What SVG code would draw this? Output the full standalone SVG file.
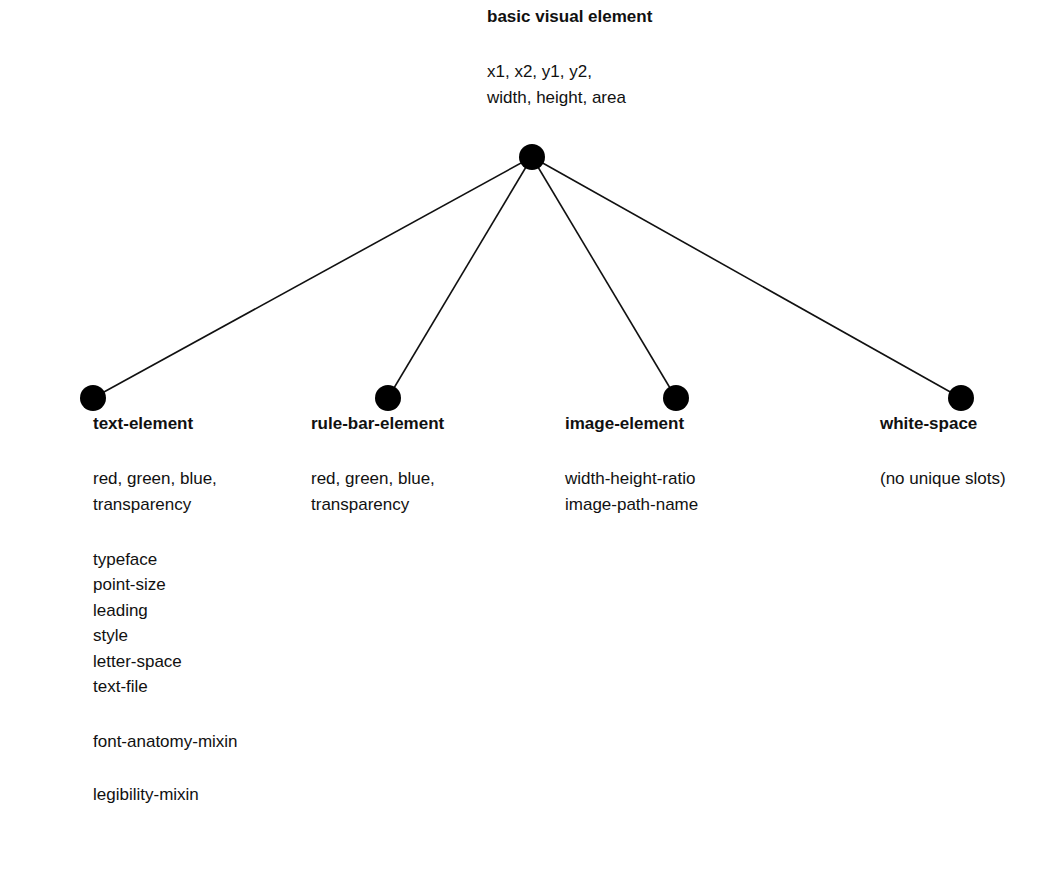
<svg xmlns="http://www.w3.org/2000/svg" width="1063" height="871" viewBox="0 0 1063 871">
  <style>
    text { font-family: "Liberation Sans", Arial, sans-serif; font-size: 17px; fill: #111; }
    .title { font-weight: bold; }
    .edge { stroke: #111; stroke-width: 1.6; fill: none; }
    .dot { fill: #000; }
  </style>
  <rect width="1063" height="871" fill="#fff"/>

  <!-- connectors from the root class to each subclass -->
  <g id="connectors">
    <line class="edge" x1="532" y1="157" x2="93" y2="398"/>
    <line class="edge" x1="532" y1="157" x2="388" y2="398"/>
    <line class="edge" x1="532" y1="157" x2="676" y2="398"/>
    <line class="edge" x1="532" y1="157" x2="961" y2="398"/>
  </g>

  <g id="basic-visual-element">
    <text class="title" x="487" y="22">basic visual element</text>
    <text x="487" y="77">x1, x2, y1, y2,</text>
    <text x="487" y="103">width, height, area</text>
    <circle class="dot" cx="532" cy="157" r="13"/>
  </g>

  <g id="text-element">
    <circle class="dot" cx="93" cy="398" r="13"/>
    <text class="title" x="93" y="429">text-element</text>
    <text x="93" y="484">red, green, blue,</text>
    <text x="93" y="510">transparency</text>
    <text x="93" y="565">typeface</text>
    <text x="93" y="590">point-size</text>
    <text x="93" y="616">leading</text>
    <text x="93" y="641">style</text>
    <text x="93" y="667">letter-space</text>
    <text x="93" y="692">text-file</text>
    <text x="93" y="747">font-anatomy-mixin</text>
    <text x="93" y="800">legibility-mixin</text>
  </g>

  <g id="rule-bar-element">
    <circle class="dot" cx="388" cy="398" r="13"/>
    <text class="title" x="311" y="429">rule-bar-element</text>
    <text x="311" y="484">red, green, blue,</text>
    <text x="311" y="510">transparency</text>
  </g>

  <g id="image-element">
    <circle class="dot" cx="676" cy="398" r="13"/>
    <text class="title" x="565" y="429">image-element</text>
    <text x="565" y="484">width-height-ratio</text>
    <text x="565" y="510">image-path-name</text>
  </g>

  <g id="white-space">
    <circle class="dot" cx="961" cy="398" r="13"/>
    <text class="title" x="880" y="429">white-space</text>
    <text x="880" y="484">(no unique slots)</text>
  </g>
</svg>
